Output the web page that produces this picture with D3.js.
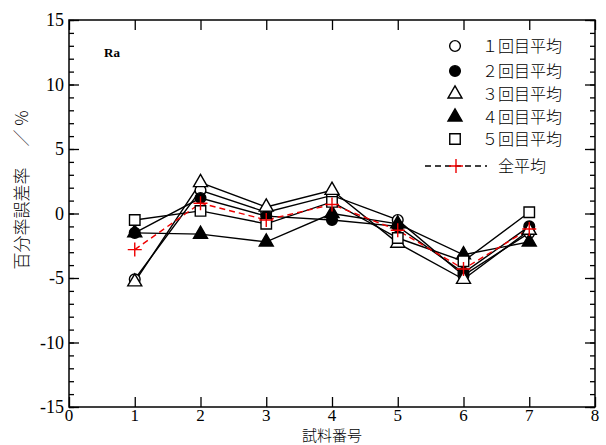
<!DOCTYPE html>
<html><head><meta charset="utf-8">
<script src="https://cdn.jsdelivr.net/npm/d3@7"></script>
<style>body{margin:0;background:#fff}svg{display:block}text{fill:#000}.sf{font-family:"Liberation Serif","Times New Roman",serif}.jp{font-family:"Noto Sans CJK JP",sans-serif;font-weight:300}</style>
</head><body>
<script>
const samples = [1,2,3,4,5,6,7];
const run1 = [-5.1, 1.8, 0.1, 1.4, -0.5, -4.8, -1.5];
const run2 = [-1.5, 1.2, -0.2, -0.5, -1.0, -4.6, -1.0];
const run3 = [-5.3, 2.4, 0.5, 1.8, -2.3, -5.1, -1.3];
const run4 = [-1.5, -1.6, -2.2, 0.0, -0.8, -3.2, -2.2];
const run5 = [-0.5, 0.2, -0.8, 0.9, -1.9, -3.7, 0.1];
const allAvg = [-2.8, 0.8, -0.5, 0.7, -1.3, -4.3, -1.2];
const seriesNames = ["１回目平均","２回目平均","３回目平均","４回目平均","５回目平均","全平均"];
const xTicks = [0,1,2,3,4,5,6,7,8];
const yTicks = [-15,-10,-5,0,5,10,15];

const W=606,H=445;
const m={l:69,r:11,t:20,b:38};
const svg=d3.select("body").append("svg").attr("width",W).attr("height",H);
const x=d3.scaleLinear().domain([0,8]).range([m.l,W-m.r]);
const y=d3.scaleLinear().domain([-15,15]).range([H-m.b,m.t]);

const yMinor=d3.range(-15,16,1);
const g=svg.append("g");
function tickSet(axisGen, transform){
  return g.append("g").attr("transform",transform).call(axisGen)
   .call(s=>s.select(".domain").remove())
   .call(s=>s.selectAll("line").attr("stroke","#000").attr("stroke-width",1.3));
}
tickSet(d3.axisLeft(y).tickValues(yMinor).tickSize(-5).tickFormat(""),`translate(${m.l},0)`);
tickSet(d3.axisLeft(y).tickValues(yTicks).tickSize(-10).tickFormat(""),`translate(${m.l},0)`);
tickSet(d3.axisRight(y).tickValues(yMinor).tickSize(-5).tickFormat(""),`translate(${W-m.r},0)`);
tickSet(d3.axisRight(y).tickValues(yTicks).tickSize(-10).tickFormat(""),`translate(${W-m.r},0)`);
tickSet(d3.axisBottom(x).tickValues(xTicks).tickSize(-10).tickFormat(""),`translate(0,${H-m.b})`);
tickSet(d3.axisTop(x).tickValues(xTicks).tickSize(-10).tickFormat(""),`translate(0,${m.t})`);

svg.append("rect").attr("x",m.l).attr("y",m.t).attr("width",W-m.r-m.l).attr("height",H-m.b-m.t)
  .attr("fill","none").attr("stroke","#000").attr("stroke-width",1.5);

svg.append("g").selectAll("text").data(yTicks).join("text").attr("class","sf")
  .attr("x",m.l-5).attr("y",d=>y(d)+6).attr("text-anchor","end")
  .attr("font-size",18).text(d=>d);
svg.append("g").selectAll("text").data(xTicks).join("text").attr("class","sf")
  .attr("x",d=>x(d)).attr("y",H-m.b+14).attr("text-anchor","middle")
  .attr("font-size",17).text(d=>d);

svg.append("text").attr("class","jp").attr("x",x(4)).attr("y",441).attr("text-anchor","middle")
  .attr("font-size",15).text("試料番号");
svg.append("text").attr("class","jp").attr("transform","translate(28,190) rotate(-90)").attr("text-anchor","middle")
  .attr("font-size",17).text("百分率誤差率　 ／ %");

svg.append("text").attr("class","sf").attr("x",104).attr("y",57).attr("font-size",13)
  .attr("font-weight","bold").text("Ra");

const line=d3.line().x((d,i)=>x(samples[i])).y(d=>y(d));
const runs=[run1,run2,run3,run4,run5];
const plot=svg.append("g");
runs.forEach(r=>plot.append("path").attr("d",line(r)).attr("fill","none").attr("stroke","#000").attr("stroke-width",1.4));
plot.append("path").attr("d",line(allAvg)).attr("fill","none").attr("stroke","#e00").attr("stroke-width",1.4).attr("stroke-dasharray","6,4");

const sym=[
  {t:d3.symbolCircle,s:90,fill:"#fff"},
  {t:d3.symbolCircle,s:90,fill:"#000"},
  {t:d3.symbolTriangle,s:85,fill:"#fff"},
  {t:d3.symbolTriangle,s:85,fill:"#000"},
  {t:d3.symbolSquare,s:110,fill:"#fff"}
];
function drawSym(sel,k,cx,cy){
  const sp=sym[k];
  sel.append("path").attr("d",d3.symbol(sp.t,sp.s)()).attr("transform",`translate(${cx},${cy})`)
   .attr("fill",sp.fill).attr("stroke","#000").attr("stroke-width",1.4);
}
function drawPlus(sel,cx,cy,color){
  sel.append("path").attr("d",`M${cx-7},${cy}H${cx+7}M${cx},${cy-7}V${cy+7}`)
   .attr("stroke",color).attr("stroke-width",1.4);
}
runs.forEach((r,k)=>r.forEach((v,i)=>drawSym(plot,k,x(samples[i]),y(v))));
allAvg.forEach((v,i)=>drawPlus(plot,x(samples[i]),y(v),"#e00"));

const lg=svg.append("g");
const ly=[46,71,94,117,139];
ly.forEach((yy,k)=>{
  drawSym(lg,k,455,yy);
  lg.append("text").attr("class","jp").attr("x",482).attr("y",yy+6).attr("font-size",16)
    .text(seriesNames[k]);
});
lg.append("line").attr("x1",425).attr("x2",487).attr("y1",166).attr("y2",166)
  .attr("stroke","#000").attr("stroke-width",1.4).attr("stroke-dasharray","6,4");
drawPlus(lg,456,166,"#e00");
lg.append("text").attr("class","jp").attr("x",498).attr("y",172).attr("font-size",16)
  .text(seriesNames[5]);
</script>
</body></html>
